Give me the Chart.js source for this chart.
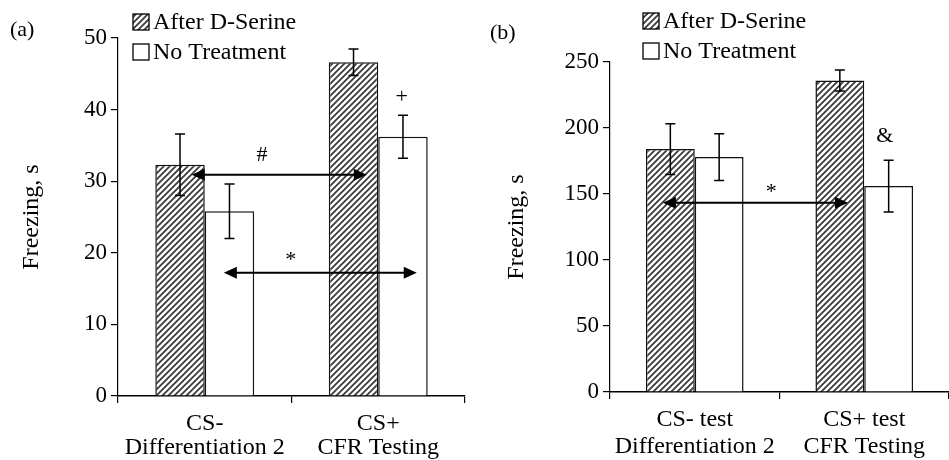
<!DOCTYPE html>
<html>
<head>
<meta charset="utf-8">
<script src="https://cdn.jsdelivr.net/npm/chart.js@4.4.0/dist/chart.umd.min.js"></script>
<style>
  body { margin: 0; background: #fff; }
  #wrap { position: relative; width: 949px; height: 460px; }
  .panel { position: absolute; top: 0; height: 460px; }
</style>
</head>
<body>
<div id="wrap">
  <div class="panel" style="left:0;width:475px"><canvas id="chartA" width="475" height="460"></canvas></div>
  <div class="panel" style="left:475px;width:474px"><canvas id="chartB" width="474" height="460"></canvas></div>
</div>
<script>
const seriesNames = ["After D-Serine", "No Treatment"];

// panel (a)
const labelsA = [["CS-", "Differentiation 2"], ["CS+", "CFR Testing"]];
const serineA = [32.3, 46.6];
const serineErrA = [4.3, 1.85];
const noTreatA = [25.8, 36.2];
const noTreatErrA = [3.8, 3.0];
const arrowsA = [{ from: -0.075, to: 0.934, y: 30.9 }, { from: 0.11, to: 1.222, y: 17.2 }];
const marksA = [{ text: "#", x: 0.33, y: 33.6 }, { text: "*", x: 0.496, y: 19.0 }, { text: "+", x: 1.135, y: 41.7 }];

// panel (b)
const labelsB = [["CS- test", "Differentiation 2"], ["CS+ test", "CFR Testing"]];
const serineB = [184, 236];
const serineErrB = [19.3, 8];
const noTreatB = [178, 156];
const noTreatErrB = [17.7, 19.6];
const arrowsB = [{ from: -0.188, to: 0.904, y: 143.4 }];
const marksB = [{ text: "*", x: 0.451, y: 151 }, { text: "&", x: 1.122, y: 193.5 }];

const FONT = "'Liberation Serif', 'Times New Roman', serif";

function hatch() {
  const c = document.createElement("canvas");
  c.width = 6; c.height = 6;
  const g = c.getContext("2d");
  g.fillStyle = "#fff";
  g.fillRect(0, 0, 6, 6);
  g.strokeStyle = "#3a3a3a";
  g.lineWidth = 1.8;
  g.beginPath();
  g.moveTo(-1, 7); g.lineTo(7, -1);
  g.moveTo(-1, 1); g.lineTo(1, -1);
  g.moveTo(5, 7); g.lineTo(7, 5);
  g.stroke();
  return g.createPattern(c, "repeat");
}

// error bars, arrows, significance marks, legend and panel letter
const extras = {
  id: "extras",
  afterDatasetsDraw(chart, args, opts) {
    const ctx = chart.ctx;
    const xs = chart.scales.x, ys = chart.scales.y;
    ctx.save();
    ctx.strokeStyle = "#000";
    ctx.lineWidth = 1.5;
    chart.data.datasets.forEach((ds, i) => {
      chart.getDatasetMeta(i).data.forEach((bar, j) => {
        const v = ds.data[j], e = ds.errors[j];
        const y1 = ys.getPixelForValue(v + e), y2 = ys.getPixelForValue(v - e);
        ctx.beginPath();
        ctx.moveTo(bar.x, y1); ctx.lineTo(bar.x, y2);
        ctx.moveTo(bar.x - 5, y1); ctx.lineTo(bar.x + 5, y1);
        ctx.moveTo(bar.x - 5, y2); ctx.lineTo(bar.x + 5, y2);
        ctx.stroke();
      });
    });
    ctx.fillStyle = "#000";
    ctx.lineWidth = 2;
    opts.arrows.forEach(a => {
      const x1 = xs.getPixelForValue(a.from), x2 = xs.getPixelForValue(a.to);
      const y = ys.getPixelForValue(a.y);
      ctx.beginPath();
      ctx.moveTo(x1 + 10, y); ctx.lineTo(x2 - 10, y);
      ctx.stroke();
      ctx.beginPath();
      ctx.moveTo(x1, y); ctx.lineTo(x1 + 13, y - 6); ctx.lineTo(x1 + 13, y + 6); ctx.closePath();
      ctx.moveTo(x2, y); ctx.lineTo(x2 - 13, y - 6); ctx.lineTo(x2 - 13, y + 6); ctx.closePath();
      ctx.fill();
    });
    ctx.font = "22px " + FONT;
    ctx.textAlign = "center";
    ctx.textBaseline = "middle";
    opts.marks.forEach(m => {
      ctx.fillText(m.text, xs.getPixelForValue(m.x), ys.getPixelForValue(m.y));
    });
    // legend
    ctx.textAlign = "left";
    ctx.font = "24px " + FONT;
    chart.data.datasets.forEach((ds, i) => {
      const cy = opts.legendY + i * 30;
      ctx.fillStyle = ds.backgroundColor;
      ctx.fillRect(opts.legendX, cy - 8, 16, 16);
      ctx.strokeStyle = "#000";
      ctx.lineWidth = 1.3;
      ctx.strokeRect(opts.legendX, cy - 8, 16, 16);
      ctx.fillStyle = "#000";
      ctx.fillText(ds.label, opts.legendX + 20, cy + 1);
    });
    ctx.font = "22px " + FONT;
    ctx.fillText(opts.letter, opts.letterX, opts.letterY);
    ctx.restore();
  }
};

function makeChart(id, labels, serine, serineErr, noTreat, noTreatErr, cfg) {
  return new Chart(document.getElementById(id), {
    type: "bar",
    data: {
      labels: labels,
      datasets: [
        { label: seriesNames[0], data: serine, errors: serineErr, backgroundColor: hatch(), borderColor: "#111", borderWidth: 1.5 },
        { label: seriesNames[1], data: noTreat, errors: noTreatErr, backgroundColor: "#fff", borderColor: "#111", borderWidth: 1.5 }
      ]
    },
    options: {
      responsive: false,
      animation: false,
      categoryPercentage: cfg.catPct,
      barPercentage: 1.0,
      layout: { padding: { top: cfg.top, right: cfg.right, left: 0, bottom: 0 } },
      plugins: {
        legend: { display: false },
        tooltip: { enabled: false },
        extras: cfg.extras
      },
      scales: {
        x: {
          afterFit: s => { s.height = cfg.xHeight; },
          border: { color: "#000", width: 1.5 },
          grid: { drawOnChartArea: false, drawTicks: true, tickLength: 7, color: "#000", lineWidth: 1.2 },
          ticks: { color: "#000", font: { family: FONT, size: 24, lineHeight: cfg.lh }, padding: cfg.xPad, maxRotation: 0, autoSkip: false }
        },
        y: {
          min: 0, max: cfg.max,
          afterFit: s => { s.width = cfg.yWidth; },
          border: { color: "#000", width: 1.2 },
          grid: { drawOnChartArea: false, drawTicks: true, tickLength: 7, color: "#000", lineWidth: 1.2 },
          ticks: { stepSize: cfg.step, color: "#000", font: { family: FONT, size: 23 }, padding: 4 },
          title: { display: true, text: "Freezing, s", color: "#000", font: { family: FONT, size: 24 }, padding: { top: cfg.titlePad, bottom: 0 } }
        }
      }
    },
    plugins: [extras]
  });
}

makeChart("chartA", labelsA, serineA, serineErrA, noTreatA, noTreatErrA, {
  catPct: 0.57, top: 38, right: 10, xHeight: 64, yWidth: 118, max: 50, step: 10, xPad: 9, lh: 1.0, titlePad: 17,
  extras: { arrows: arrowsA, marks: marksA, legendX: 133, legendY: 22, letter: "(a)", letterX: 10, letterY: 30 }
});

makeChart("chartB", labelsB, serineB, serineErrB, noTreatB, noTreatErrB, {
  catPct: 0.576, top: 62, right: 0, xHeight: 68, yWidth: 135, max: 250, step: 50, xPad: 8, lh: 1.1, titlePad: 27,
  extras: { arrows: arrowsB, marks: marksB, legendX: 168, legendY: 21, letter: "(b)", letterX: 15, letterY: 33 }
});
</script>
</body>
</html>
